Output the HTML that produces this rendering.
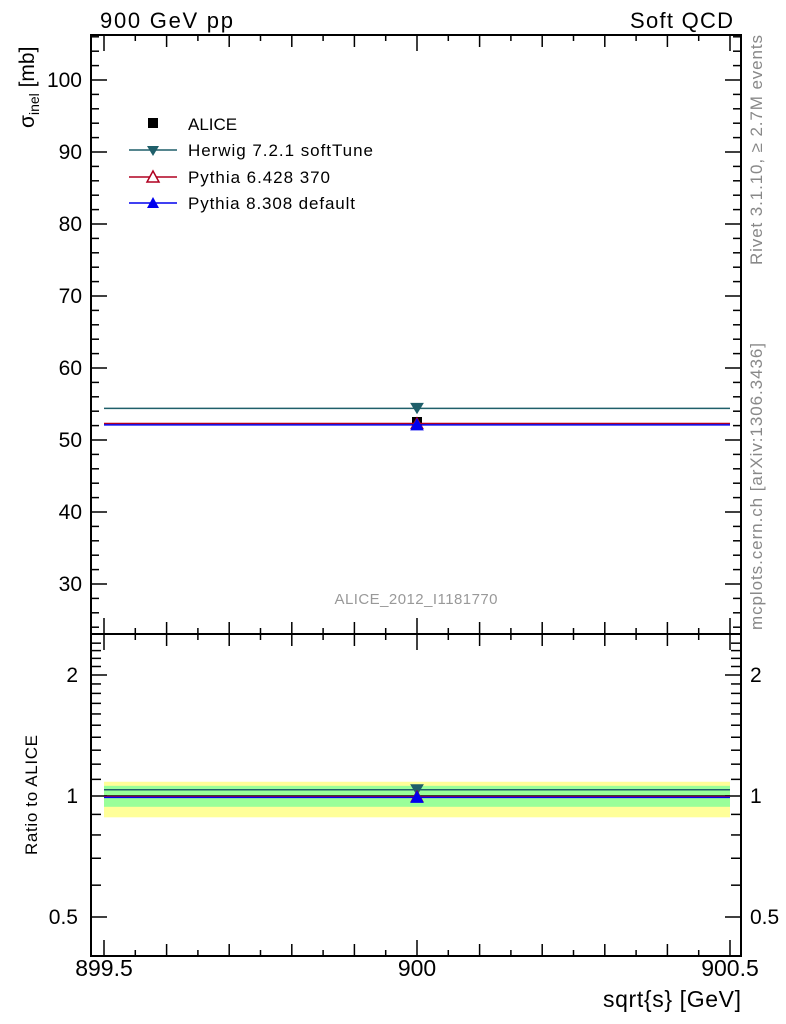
<!DOCTYPE html>
<html><head><meta charset="utf-8"><style>
body{margin:0;background:#fff;}
svg{display:block;font-family:"Liberation Sans",sans-serif;}
</style></head><body>
<svg id="c" width="786" height="1024" viewBox="0 0 786 1024">
<text x="100" y="28" font-size="22" textLength="133">900 GeV pp</text>
<text x="733" y="28" font-size="22" text-anchor="end" textLength="103">Soft QCD</text>
<text transform="translate(762,265) rotate(-90)" font-size="17" fill="#888" textLength="230">Rivet 3.1.10, ≥ 2.7M events</text>
<text transform="translate(762,630) rotate(-90)" font-size="17" fill="#888" textLength="287">mcplots.cern.ch [arXiv:1306.3436]</text>
<text x="416" y="604" font-size="15" fill="#999" text-anchor="middle" textLength="163">ALICE_2012_I1181770</text>
<text transform="translate(34,128) rotate(-90)" font-size="21">σ<tspan font-size="14" dy="5">inel</tspan><tspan dy="-5"> [mb]</tspan></text>
<text transform="translate(37,855) rotate(-90)" font-size="17" textLength="120">Ratio to ALICE</text>
<text x="741" y="1007" font-size="23" text-anchor="end" textLength="138">sqrt{s} [GeV]</text>
<g id="g"></g>
<g>
<rect x="148" y="118" width="10" height="10" fill="#000"/>
<text x="188" y="130" font-size="17">ALICE</text>
<line x1="129" y1="150" x2="177" y2="150" stroke="#1f5f6a" stroke-width="1.5"/>
<polygon points="147,146 159,146 153,156" fill="#1f5f6a"/>
<text x="188" y="156" font-size="17" textLength="185">Herwig 7.2.1 softTune</text>
<line x1="129" y1="177" x2="177" y2="177" stroke="#b00020" stroke-width="1.5"/>
<polygon points="153,171 159,182 147,182" fill="#fff" stroke="#b00020" stroke-width="1.5"/>
<text x="188" y="183" font-size="17" textLength="142">Pythia 6.428 370</text>
<line x1="129" y1="203" x2="177" y2="203" stroke="#0000ee" stroke-width="1.5"/>
<polygon points="153,197 159,208 147,208" fill="#0000ee"/>
<text x="188" y="209" font-size="17" textLength="167">Pythia 8.308 default</text>
</g>
</svg>
<script>
const categories=[900];
const xRange=[899.5,900.5];
const aliceVals=[52.5];
const herwigVals=[54.4];
const pythia6Vals=[52.3];
const pythia8Vals=[52.1];
const bandInner=[0.94,1.06];
const bandOuter=[0.885,1.085];
const yTicks=[30,40,50,60,70,80,90,100];
const rTicks=[0.5,1,2];
const xTicks=[899.5,900,900.5];
const NS="http://www.w3.org/2000/svg";
const g=document.getElementById('g');
const L=91,R=741,T=35,M=634,B=956;
const X=v=>104+(v-899.5)*626;
const Y=v=>80+(100-v)*7.2;
const RY=v=>796-Math.log2(v)*121;
function el(t,a,n){const e=document.createElementNS(NS,t);for(const k in a)e.setAttribute(k,a[k]);


g.appendChild(e);return e;}
el('rect',{x:X(xRange[0]),y:RY(bandOuter[1]),width:X(xRange[1])-X(xRange[0]),height:RY(bandOuter[0])-RY(bandOuter[1]),fill:'#ffff99'},'ratio-band-outer');
el('rect',{x:X(xRange[0]),y:RY(bandInner[1]),width:X(xRange[1])-X(xRange[0]),height:RY(bandInner[0])-RY(bandInner[1]),fill:'#99ff99'},'ratio-band-inner');
el('rect',{x:L,y:T,width:R-L,height:B-T,fill:'none',stroke:'#000','stroke-width':2},'frame');
el('line',{x1:L,y1:M,x2:R,y2:M,stroke:'#000','stroke-width':2},'panel-divider');
for(let i=0;i<=20;i++){const v=899.5+i*0.05,x=X(v),big=i%2==0,h=(i%10==0)?16:(big?12:6);
[T,M,B].forEach((yy,j)=>{if(j!=1){const d=j==0?1:-1;el('line',{x1:x,y1:yy,x2:x,y2:yy+d*h,stroke:'#000','stroke-width':1.5},'x-tick');}
else{el('line',{x1:x,y1:M-h,x2:x,y2:M+h,stroke:'#000','stroke-width':1.5},'x-tick');}});}
xTicks.forEach(v=>{const t=el('text',{x:X(v),y:976,'font-size':23,'text-anchor':'middle'},'x-tick-label');t.textContent=v;});
for(let v=24;v<=106;v++){const y=Y(v);if(y<T||y>M)continue;const h=v%10==0?16:(v%2==0?8:0);if(!h)continue;
el('line',{x1:L,y1:y,x2:L+h,y2:y,stroke:'#000','stroke-width':1.5},'y-tick');el('line',{x1:R,y1:y,x2:R-h,y2:y,stroke:'#000','stroke-width':1.5},'y-tick');}
yTicks.forEach(v=>{const t=el('text',{x:82,y:Y(v)+7,'font-size':21,'text-anchor':'end'},'y-tick-label');t.textContent=v;});
[0.4,0.5,0.6,0.7,0.8,0.9,1,1.1,1.2,1.3,1.4,1.5,1.6,1.7,1.8,1.9,2,2.1,2.2,2.3,2.4].forEach(v=>{const y=RY(v);if(y>B||y<M)return;const h=(v==0.5||v==1||v==2)?16:10;
el('line',{x1:L,y1:y,x2:L+h,y2:y,stroke:'#000','stroke-width':1.5},'ratio-tick');el('line',{x1:R,y1:y,x2:R-h,y2:y,stroke:'#000','stroke-width':1.5},'ratio-tick');});
rTicks.forEach(v=>{const a=el('text',{x:78,y:RY(v)+7,'font-size':21,'text-anchor':'end'},'ratio-tick-label');a.textContent=v;
const b=el('text',{x:750,y:RY(v)+7,'font-size':21},'ratio-tick-label-right');b.textContent=v;});
function series(vals,col,name,mark){categories.forEach((c,i)=>{
const v=vals[i],y=Y(v),ry=RY(v/aliceVals[i]);
[[y,'main'],[ry,'ratio']].forEach(([yy,p])=>{
el('line',{x1:X(xRange[0]),y1:yy,x2:X(xRange[1]),y2:yy,stroke:col,'stroke-width':1.5},name+'-line-'+p);
const x=X(c);let pts;
if(mark=='down')pts=`${x-6},${yy-5} ${x+6},${yy-5} ${x},${yy+5}`;else pts=`${x},${yy-6} ${x+6},${yy+5} ${x-6},${yy+5}`;
el('polygon',{points:pts,fill:mark=='open'?'#fff':col,stroke:col,'stroke-width':1},name+'-marker-'+p);});});}
el('line',{x1:X(xRange[0]),y1:RY(1),x2:X(xRange[1]),y2:RY(1),stroke:'#000','stroke-width':1.5},'ratio-reference-line');
series(herwigVals,'#1f5f6a','herwig','down');
categories.forEach((c,i)=>{el('rect',{x:X(c)-5,y:Y(aliceVals[i])-5,width:10,height:10,fill:'#000'},'alice-point');});
series(pythia6Vals,'#b00020','pythia6','open');
series(pythia8Vals,'#0000ee','pythia8','up');
</script>
</body></html>
